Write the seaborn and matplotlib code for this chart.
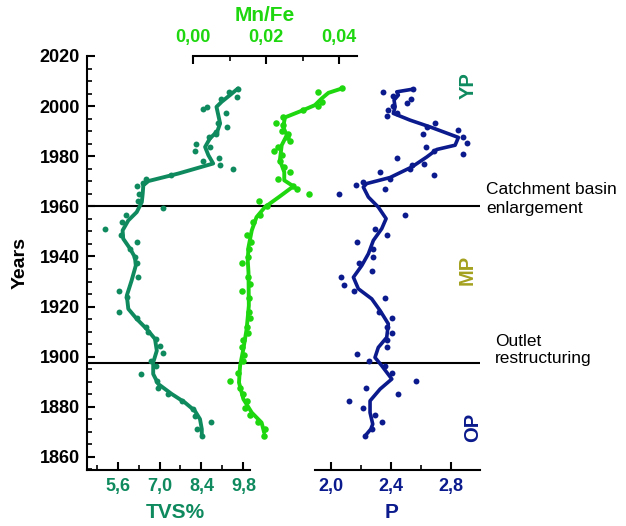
import numpy as np
import pandas as pd
import matplotlib
matplotlib.use("Agg")
import matplotlib.pyplot as plt
import seaborn as sns
from matplotlib.ticker import FixedLocator, FixedFormatter, MultipleLocator

# ---------------- data ----------------
tvs_years = [2006.7, 2005.5, 2003.7, 2002.8, 1999.7, 1998.7, 1997.1, 1993.1, 1991.7, 1989.7,
             1988.8, 1987.5, 1985.0, 1983.5, 1982.1, 1979.4, 1978.0, 1976.7, 1975.1, 1972.6,
             1970.9, 1969.3, 1968.3, 1964.8, 1962.1, 1959.5, 1956.7, 1953.7, 1951.1, 1948.4,
             1945.7, 1943.1, 1939.7, 1937.5, 1931.7, 1926.4, 1923.7, 1918.0, 1915.3, 1912.0,
             1909.7, 1907.0, 1904.4, 1901.5, 1898.4, 1896.4, 1893.3, 1890.4, 1887.7, 1885.1,
             1882.4, 1879.3, 1876.4, 1874.1, 1871.3, 1868.4]
tvs_vals = [9.62, 9.33, 9.59, 9.05, 8.57, 8.44, 9.22, 8.96, 9.26, 8.88,
            8.90, 8.66, 8.23, 8.70, 8.18, 8.99, 8.44, 9.02, 9.44, 7.37,
            6.56, 6.46, 6.24, 6.32, 6.27, 7.11, 5.88, 5.76, 5.18, 5.72,
            6.24, 6.02, 6.18, 6.24, 6.27, 5.65, 5.91, 5.66, 6.24, 6.55,
            6.63, 6.88, 7.02, 7.11, 6.72, 6.87, 6.38, 6.91, 6.94, 7.29,
            7.74, 8.11, 8.18, 8.71, 8.24, 8.41]
tvs_curve_years = [2007.1, 2004.4, 2001.7, 1999.7, 1996.4, 1993.1, 1990.0, 1987.1, 1983.7, 1980.4,
                   1977.1, 1973.1, 1970.1, 1968.4, 1965.1, 1961.7, 1957.7, 1954.4, 1950.4, 1947.1,
                   1943.1, 1939.7, 1936.4, 1930.4, 1924.4, 1919.1, 1915.1, 1911.1, 1907.1, 1902.4,
                   1897.7, 1893.1, 1889.1, 1885.1, 1881.7, 1878.4, 1875.1, 1871.1, 1868.4]
tvs_curve_vals = [9.62, 9.35, 9.07, 8.90, 8.96, 9.02, 8.93, 8.68, 8.52, 8.63,
                  8.79, 7.63, 6.63, 6.46, 6.44, 6.41, 6.24, 5.96, 5.77, 5.79,
                  6.02, 6.18, 6.21, 6.07, 5.91, 5.96, 6.24, 6.57, 6.85, 6.91,
                  6.79, 6.79, 6.96, 7.41, 7.85, 8.18, 8.35, 8.41, 8.41]

mnfe_years = [2007.1, 2005.5, 2001.7, 2000.1, 1998.4, 1995.7, 1993.1, 1992.4, 1990.0, 1988.8,
              1987.5, 1986.1, 1983.5, 1982.1, 1980.4, 1978.1, 1975.7, 1973.7, 1971.1, 1968.0,
              1967.1, 1964.8, 1962.1, 1960.1, 1956.4, 1953.7, 1948.4, 1945.7, 1943.1, 1939.7,
              1937.5, 1931.7, 1929.1, 1926.4, 1923.3, 1918.0, 1915.3, 1912.0, 1909.3, 1906.7,
              1904.0, 1900.7, 1898.4, 1893.5, 1890.4, 1887.7, 1885.1, 1882.4, 1879.7, 1876.7,
              1874.0, 1871.3, 1868.4]
mnfe_vals = [0.0409, 0.0343, 0.0353, 0.0343, 0.0300, 0.0247, 0.0227, 0.0247, 0.0243, 0.0261,
             0.0257, 0.0266, 0.0234, 0.0222, 0.0245, 0.0238, 0.0250, 0.0266, 0.0234, 0.0275,
             0.0284, 0.0319, 0.0182, 0.0202, 0.0184, 0.0165, 0.0147, 0.0159, 0.0153, 0.0152,
             0.0135, 0.0152, 0.0156, 0.0133, 0.0154, 0.0154, 0.0156, 0.0147, 0.0150, 0.0138,
             0.0133, 0.0141, 0.0138, 0.0124, 0.0101, 0.0129, 0.0138, 0.0147, 0.0142, 0.0156,
             0.0179, 0.0197, 0.0195]
mnfe_curve_years = [2007.1, 2005.3, 2003.1, 2000.4, 1998.4, 1995.5, 1991.7, 1988.4, 1984.4, 1978.4,
                    1973.7, 1970.4, 1968.0, 1964.0, 1959.7, 1955.7, 1950.4, 1943.7, 1938.4, 1933.7,
                    1920.4, 1911.1, 1903.1, 1896.4, 1889.7, 1883.1, 1877.7, 1873.7, 1869.7]
mnfe_curve_vals = [0.0409, 0.0371, 0.0353, 0.0334, 0.0302, 0.0252, 0.0247, 0.0257, 0.0243, 0.0238,
                   0.0250, 0.0250, 0.0275, 0.0238, 0.0197, 0.0174, 0.0161, 0.0152, 0.0150, 0.0152,
                   0.0153, 0.0147, 0.0138, 0.0129, 0.0126, 0.0138, 0.0161, 0.0188, 0.0195]

p_years = [2006.8, 2005.5, 2004.1, 2002.7, 2001.3, 2000.0, 1998.4, 1997.1, 1996.0, 1993.1,
           1991.7, 1990.4, 1988.8, 1987.5, 1985.1, 1983.5, 1982.1, 1980.8, 1979.3, 1976.8,
           1976.4, 1975.1, 1973.7, 1972.4, 1971.1, 1969.7, 1968.4, 1967.1, 1964.8, 1956.7,
           1951.1, 1948.4, 1945.7, 1943.1, 1939.7, 1937.5, 1934.4, 1931.7, 1928.8, 1926.4,
           1923.5, 1918.0, 1915.3, 1912.0, 1909.3, 1906.7, 1904.0, 1901.1, 1898.4, 1896.4,
           1893.5, 1890.4, 1887.7, 1885.1, 1882.2, 1879.6, 1876.9, 1874.1, 1871.3, 1868.4]
p_vals = [2.551, 2.351, 2.417, 2.533, 2.507, 2.417, 2.384, 2.440, 2.373, 2.695,
          2.640, 2.851, 2.613, 2.880, 2.907, 2.635, 2.689, 2.880, 2.440, 2.622,
          2.540, 2.529, 2.329, 2.689, 2.395, 2.217, 2.169, 2.362, 2.057, 2.497,
          2.295, 2.373, 2.177, 2.284, 2.280, 2.191, 2.273, 2.067, 2.089, 2.155,
          2.362, 2.324, 2.407, 2.377, 2.411, 2.377, 2.377, 2.177, 2.257, 2.362,
          2.407, 2.569, 2.235, 2.451, 2.122, 2.217, 2.295, 2.340, 2.273, 2.229]
p_curve_years = [2006.8, 2005.7, 2004.4, 2002.4, 1999.7, 1997.1, 1994.4, 1991.7, 1987.5, 1984.4,
                 1982.7, 1979.7, 1975.7, 1971.5, 1969.1, 1967.7, 1963.7, 1959.7, 1955.1, 1951.1,
                 1946.4, 1941.1, 1936.4, 1931.7, 1927.1, 1923.1, 1918.4, 1913.1, 1907.7, 1903.7,
                 1899.7, 1896.4, 1891.1, 1887.1, 1882.4, 1877.7, 1873.1, 1871.1, 1868.4]
p_curve_vals = [2.551, 2.440, 2.451, 2.422, 2.429, 2.417, 2.529, 2.662, 2.851, 2.829,
                2.707, 2.640, 2.540, 2.395, 2.240, 2.217, 2.251, 2.317, 2.369, 2.340,
                2.284, 2.251, 2.207, 2.151, 2.184, 2.273, 2.329, 2.384, 2.373, 2.317,
                2.295, 2.340, 2.407, 2.329, 2.262, 2.262, 2.280, 2.267, 2.229]

year_ticks = [1860, 1880, 1900, 1920, 1940, 1960, 1980, 2000, 2020]
tvs_ticks = [5.6, 7.0, 8.4, 9.8]
tvs_ticklabels = ["5,6", "7,0", "8,4", "9,8"]
tvs_minor = [4.9, 6.3, 7.7, 9.1]
mnfe_ticks = [0.00, 0.02, 0.04]
mnfe_ticklabels = ["0,00", "0,02", "0,04"]
mnfe_minor = [0.01, 0.03]
p_ticks = [2.0, 2.4, 2.8]
p_ticklabels = ["2,0", "2,4", "2,8"]
p_minor = [2.2, 2.6, 3.0]
event_years = [1960, 1897.6]
event_labels = ["Catchment basin\nenlargement", "Outlet\nrestructuring"]
period_labels = ["YP", "MP", "OP"]

# ---------------- style ----------------
TVS_C = "#0f8a5f"
MNFE_C = "#1ed70f"
P_C = "#0b1a8c"
MP_C = "#a3a11e"

sns.set_style("ticks")
plt.rcParams["font.family"] = ["Liberation Sans", "DejaVu Sans"]
plt.rcParams["axes.linewidth"] = 1.5
for k in ("text.color", "axes.labelcolor", "xtick.color", "ytick.color", "axes.edgecolor"):
    plt.rcParams[k] = "black"

W, H = 626, 526
fig = plt.figure(figsize=(W / 100, H / 100), dpi=100)

def rect(x0, x1, y0=56, y1=470):
    return [x0 / W, (H - y1) / H, (x1 - x0) / W, (y1 - y0) / H]

YLIM = (1854.8, 2020)

ax0 = fig.add_axes(rect(87, 480))
ax1 = fig.add_axes(rect(87, 250))
ax2 = fig.add_axes(rect(193, 357))
ax3 = fig.add_axes(rect(315, 480))

for ax in (ax0, ax1, ax2, ax3):
    ax.set_ylim(*YLIM)
    ax.patch.set_alpha(0)
    for s in ax.spines.values():
        s.set_visible(False)
        s.set_linewidth(1.5)
        s.set_color("black")

# frame axes: y axis + event lines
ax0.set_xlim(0, 1)
ax0.spines["left"].set_visible(True)
ax0.yaxis.set_major_locator(FixedLocator(year_ticks))
ax0.yaxis.set_minor_locator(MultipleLocator(5))
ax0.tick_params(axis="y", which="major", direction="in", length=6, width=1.5,
                labelsize=13, pad=5, color="black", labelcolor="black")
ax0.tick_params(axis="y", which="minor", direction="in", length=3.5, width=1.2, color="black")
for lab in ax0.get_yticklabels():
    lab.set_fontweight("bold")
ax0.set_xticks([])
ax0.set_ylabel("Years", fontsize=14, fontweight="bold", labelpad=8, color="black")
for yv in event_years:
    ax0.axhline(yv, color="black", lw=1.5, zorder=1)

# text annotations
fig.text(486 / W, (H - 199) / H, event_labels[0], fontsize=12.5, ha="left", va="center",
         linespacing=1.25, color="black")
fig.text(495 / W, (H - 350) / H, event_labels[1], fontsize=12.5, ha="left", va="center",
         linespacing=1.25, color="black")
fig.text(468 / W, (H - 86) / H, period_labels[0], color=TVS_C, fontsize=14.5,
         fontweight="bold", rotation=90, ha="center", va="center")
fig.text(467 / W, (H - 270) / H, period_labels[1], color=MP_C, fontsize=14.5,
         fontweight="bold", rotation=90, ha="center", va="center")
fig.text(473 / W, (H - 427) / H, period_labels[2], color=P_C, fontsize=14.5,
         fontweight="bold", rotation=90, ha="center", va="center")

line_kw = dict(sort=False, estimator=None, legend=False, zorder=3,
               solid_joinstyle="round", solid_capstyle="round")

# TVS
ax1.set_xlim(4.583, 10.017)
sns.scatterplot(x=tvs_vals, y=tvs_years, ax=ax1, color=TVS_C, s=18, linewidth=0,
                legend=False, zorder=3)
sns.lineplot(x=tvs_curve_vals, y=tvs_curve_years, ax=ax1, color=TVS_C, lw=2.8, **line_kw)
ax1.spines["bottom"].set_visible(True)
ax1.xaxis.set_major_locator(FixedLocator(tvs_ticks))
ax1.xaxis.set_major_formatter(FixedFormatter(tvs_ticklabels))
ax1.xaxis.set_minor_locator(FixedLocator(tvs_minor))
ax1.tick_params(axis="x", which="major", direction="in", length=6, width=1.5,
                labelsize=13, pad=6, labelcolor=TVS_C, color="black")
ax1.tick_params(axis="x", which="minor", direction="in", length=3.5, width=1.2, color="black")
ax1.set_yticks([])
for lab in ax1.get_xticklabels():
    lab.set_fontweight("bold")
ax1.set_xlabel("TVS%", fontsize=15, fontweight="bold", color=TVS_C)
ax1.xaxis.set_label_coords((175 - 87) / 163, -(513 - 470) / 414, transform=ax1.transAxes)
ax1.xaxis.label.set_va("center")
ax1.set_ylabel("")

# Mn/Fe
ax2.set_xlim(0.0, 0.04493)
sns.scatterplot(x=mnfe_vals, y=mnfe_years, ax=ax2, color=MNFE_C, s=22, linewidth=0,
                legend=False, zorder=3)
sns.lineplot(x=mnfe_curve_vals, y=mnfe_curve_years, ax=ax2, color=MNFE_C, lw=2.8, **line_kw)
ax2.spines["top"].set_visible(True)
ax2.xaxis.tick_top()
ax2.xaxis.set_major_locator(FixedLocator(mnfe_ticks))
ax2.xaxis.set_major_formatter(FixedFormatter(mnfe_ticklabels))
ax2.xaxis.set_minor_locator(FixedLocator(mnfe_minor))
ax2.tick_params(axis="x", which="major", direction="in", length=6, width=1.5,
                labelsize=13, pad=7, labelcolor=MNFE_C, color="black")
ax2.tick_params(axis="x", which="minor", direction="in", length=3.5, width=1.2, color="black")
ax2.set_yticks([])
for lab in ax2.get_xticklabels():
    lab.set_fontweight("bold")
ax2.xaxis.set_label_position("top")
ax2.set_xlabel("Mn/Fe", fontsize=15, fontweight="bold", color=MNFE_C)
ax2.xaxis.set_label_coords((265 - 193) / 164, 1 + (56 - 15.5) / 414, transform=ax2.transAxes)
ax2.xaxis.label.set_va("center")
ax2.set_ylabel("")

# P
ax3.set_xlim(1.895, 2.995)
sns.scatterplot(x=p_vals, y=p_years, ax=ax3, color=P_C, s=18, linewidth=0,
                legend=False, zorder=3)
sns.lineplot(x=p_curve_vals, y=p_curve_years, ax=ax3, color=P_C, lw=2.6, **line_kw)
ax3.spines["bottom"].set_visible(True)
ax3.xaxis.set_major_locator(FixedLocator(p_ticks))
ax3.xaxis.set_major_formatter(FixedFormatter(p_ticklabels))
ax3.xaxis.set_minor_locator(FixedLocator(p_minor))
ax3.tick_params(axis="x", which="major", direction="in", length=6, width=1.5,
                labelsize=13, pad=6, labelcolor=P_C, color="black")
ax3.tick_params(axis="x", which="minor", direction="in", length=3.5, width=1.2, color="black")
ax3.set_yticks([])
for lab in ax3.get_xticklabels():
    lab.set_fontweight("bold")
ax3.set_xlabel("P", fontsize=15, fontweight="bold", color=P_C)
ax3.xaxis.set_label_coords((392 - 315) / 165, -(513 - 470) / 414, transform=ax3.transAxes)
ax3.xaxis.label.set_va("center")
ax3.set_ylabel("")

fig.savefig("out.png", dpi=100)
